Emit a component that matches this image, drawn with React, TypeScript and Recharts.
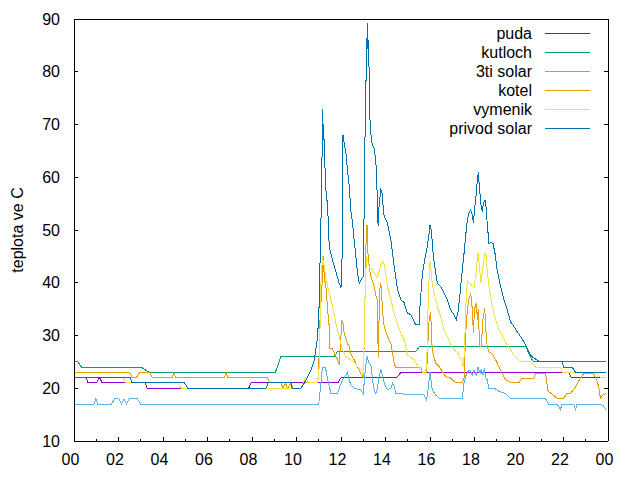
import { Legend, Line, LineChart, XAxis, YAxis } from 'recharts';

// [hodina, teplota]
const puda: [number, number][] = [
  [0, 22], [0.55, 22], [0.62, 21], [1.0, 21], [1.15, 22], [1.27, 21], [3.2, 21], [3.28, 20],
  [7.85, 20], [7.95, 21], [11.85, 21], [12.0, 22], [14.5, 22], [14.7, 23], [22.24, 23],
  [22.36, 22], [23.9, 22],
];

const kutloch: [number, number][] = [
  [0, 25], [0.18, 25], [0.33, 24], [3.02, 24], [3.37, 23], [9.05, 23], [9.3, 26], [11.7, 26],
  [11.85, 27], [15.36, 27], [15.54, 28], [20.3, 28], [20.5, 26], [20.65, 25], [23.9, 25],
];

const tretiSolar: [number, number][] = [
  [0, 17], [0.9, 17], [0.98, 18], [1.07, 17], [1.68, 17], [1.83, 18], [2.02, 18], [2.14, 17],
  [2.25, 18], [2.36, 17], [2.47, 18], [2.85, 18], [3.0, 17], [11.0, 17], [11.17, 24], [11.3, 24],
  [11.4, 21.6], [11.55, 19], [11.85, 19], [11.92, 20], [12.07, 21.6], [12.22, 22.5], [12.29, 23],
  [12.37, 21.6], [12.44, 20.6], [12.59, 20], [12.89, 19.7], [13.0, 19], [13.09, 23.5], [13.17, 26],
  [13.27, 24.7], [13.34, 24.5], [13.42, 21.6], [13.49, 19.7], [13.57, 19], [13.64, 20],
  [13.71, 22.2], [13.79, 23.5], [13.86, 22.5], [13.94, 21], [14.09, 19.7], [14.24, 20],
  [14.32, 21], [14.39, 20.3], [14.46, 19], [14.83, 18.9], [15.7, 18.9], [15.85, 17.8],
  [15.91, 19.7], [16.0, 23.1], [16.06, 21], [16.1, 19.7], [16.26, 18.7], [16.41, 18.1],
  [17.45, 18.1], [17.53, 21], [17.6, 22.2], [17.68, 23.1], [17.8, 23.5], [17.9, 22.5],
  [17.98, 23.5], [18.08, 22.5], [18.16, 24], [18.25, 22.8], [18.3, 23.5], [18.38, 22.5],
  [18.45, 23.8], [18.5, 22], [18.57, 21.6], [18.65, 20], [18.9, 20], [19.1, 19.4], [19.4, 19],
  [19.47, 18.7], [19.62, 18], [21.19, 18], [21.34, 17], [21.71, 17], [21.79, 16.5], [21.86, 16],
  [21.94, 17], [22.46, 17], [22.54, 16], [22.61, 17], [23.58, 17], [23.76, 16.8], [23.9, 16],
];

const kotel: [number, number][] = [
  [0, 23], [2.5, 23], [2.62, 22], [2.8, 22], [2.95, 23], [3.4, 23], [3.52, 22], [4.42, 22],
  [4.49, 23], [4.56, 22], [6.77, 22], [6.84, 23], [6.91, 22], [8.7, 22], [8.8, 21], [9.3, 21],
  [9.4, 20], [9.5, 21], [9.6, 20], [9.75, 21], [9.85, 20], [10.2, 20], [10.3, 21], [10.95, 21],
  [11.0, 24], [11.07, 35], [11.12, 37], [11.17, 42], [11.2, 45], [11.25, 41], [11.32, 39.3],
  [11.4, 34.9], [11.47, 31.7], [11.5, 27.6], [11.62, 27.5], [11.77, 26], [11.85, 25.4],
  [11.92, 24.4], [12.0, 30], [12.02, 33], [12.1, 32.3], [12.14, 30.4], [12.29, 28.5],
  [12.37, 27.9], [12.44, 26.6], [12.59, 25.4], [12.74, 24.1], [12.89, 22.8], [13.0, 22.2],
  [13.05, 30], [13.12, 47], [13.17, 51], [13.2, 46], [13.27, 43], [13.34, 41.2], [13.49, 39.3],
  [13.6, 37], [13.64, 36.8], [13.67, 26], [13.71, 33], [13.76, 39.9], [13.82, 39], [13.86, 34.9],
  [13.94, 31.7], [14.09, 29.8], [14.24, 28.5], [14.39, 24.7], [14.46, 24], [15.58, 24],
  [15.65, 23], [15.85, 23], [15.9, 28], [15.96, 33], [16.03, 34.5], [16.07, 30], [16.1, 27.3],
  [16.26, 24.7], [16.41, 24.1], [16.71, 22.2], [16.9, 22], [17.16, 21], [17.45, 21], [17.53, 22],
  [17.6, 30], [17.68, 35], [17.75, 36.8], [17.83, 38], [17.9, 35], [17.95, 30.4], [18.0, 35],
  [18.08, 36.1], [18.13, 33], [18.17, 35], [18.23, 27.9], [18.3, 27.9], [18.38, 33],
  [18.46, 35.2], [18.51, 31], [18.57, 27.9], [18.65, 26.9], [18.8, 26.5], [18.95, 25.4],
  [19.1, 24.1], [19.25, 22.8], [19.4, 21.6], [19.62, 21.1], [20.0, 21.1], [20.14, 21.9],
  [20.67, 21.9], [20.74, 22.8], [21.19, 22.8], [21.22, 22], [21.31, 19.4], [21.49, 18.9],
  [21.71, 18.1], [22.01, 18.1], [22.16, 19], [22.31, 19], [22.54, 20.3], [22.76, 21.9],
  [22.91, 22.8], [23.36, 22.8], [23.51, 21.3], [23.58, 20.3], [23.66, 18.1], [23.76, 18.7],
  [23.9, 19],
];

const vymenik: [number, number][] = [
  [0, 22], [2.2, 22], [2.35, 21], [4.74, 21], [4.82, 20], [10.2, 20], [10.3, 21], [10.4, 22],
  [10.55, 21], [10.95, 21], [11.02, 24], [11.1, 40], [11.17, 45], [11.2, 44], [11.25, 43.1],
  [11.32, 40.9], [11.47, 38], [11.62, 35.5], [11.77, 32.3], [11.92, 29.8], [12.07, 27.3],
  [12.22, 26], [12.44, 25.4], [12.59, 25], [12.74, 24.1], [12.89, 23.5], [13.0, 22.5],
  [13.05, 30], [13.09, 40], [13.15, 45], [13.2, 44], [13.27, 43], [13.34, 42.8], [13.49, 42],
  [13.6, 41], [13.71, 42], [13.8, 43.5], [13.86, 44], [13.94, 43.5], [14.0, 42], [14.09, 39.3],
  [14.24, 36.8], [14.39, 34.2], [14.54, 32.3], [14.69, 30.4], [14.84, 29.2], [14.91, 27.9],
  [14.98, 26.3], [15.29, 25.4], [15.43, 24.4], [15.58, 23.5], [15.73, 22.8], [15.85, 24],
  [15.91, 34.9], [15.97, 42.4], [16.0, 44], [16.06, 42], [16.1, 39.9], [16.18, 38], [16.33, 35.5],
  [16.48, 33.6], [16.63, 31.1], [16.78, 29.8], [16.93, 28.2], [17.08, 27.3], [17.23, 26.8],
  [17.38, 25.7], [17.5, 24.1], [17.56, 28], [17.6, 34.9], [17.68, 40.5], [17.75, 40.2],
  [17.9, 39.3], [17.98, 39], [18.08, 42], [18.13, 45], [18.17, 45.9], [18.23, 42.4], [18.3, 40],
  [18.38, 43], [18.46, 45.6], [18.51, 45.6], [18.57, 42.4], [18.65, 39.3], [18.8, 35.5],
  [18.95, 33], [19.1, 31.1], [19.25, 30.1], [19.4, 28.6], [19.62, 27.3], [19.77, 26.3],
  [20.0, 25.4], [20.14, 25], [20.52, 25], [20.67, 24.4], [20.74, 24], [21.86, 24], [21.94, 23],
  [23.43, 23], [23.66, 22], [23.9, 22],
];

const privodSolar: [number, number][] = [
  [0, 22], [2.53, 22], [2.6, 21], [4.97, 21], [5.12, 20], [8.63, 20], [8.72, 21], [9.75, 21],
  [9.8, 20], [10.2, 20], [10.35, 21], [10.5, 22.2], [10.65, 23.5], [10.8, 25.4], [10.95, 29.8],
  [11.02, 36], [11.07, 46.5], [11.13, 57.6], [11.17, 73], [11.2, 67], [11.22, 70], [11.25, 65],
  [11.32, 57.6], [11.4, 54.5], [11.47, 46.9], [11.62, 44.3], [11.77, 42.1], [11.92, 39.9],
  [12.0, 39], [12.05, 45], [12.09, 68], [12.14, 66.5], [12.22, 64.6], [12.29, 61.4],
  [12.37, 58.3], [12.44, 53.8], [12.52, 51.3], [12.59, 48.1], [12.67, 45], [12.74, 41.8],
  [12.82, 39.9], [12.89, 40.5], [13.0, 41.2], [13.04, 53.8], [13.09, 71.5], [13.15, 83.6],
  [13.19, 89.3], [13.22, 83], [13.24, 86], [13.27, 78], [13.3, 71], [13.37, 66.8], [13.43, 66],
  [13.49, 65.5], [13.57, 62.7], [13.61, 58.9], [13.66, 51.5], [13.68, 50.7], [13.71, 54.5],
  [13.79, 57.6], [13.85, 57], [13.88, 55.1], [13.94, 52.6], [14.09, 51.3], [14.24, 48.1],
  [14.39, 43.1], [14.54, 38.7], [14.69, 36.8], [14.84, 36.2], [14.98, 34.2], [15.14, 34],
  [15.21, 33.3], [15.36, 32], [15.51, 32], [15.55, 35.5], [15.66, 41.8], [15.76, 44.3],
  [15.88, 46.9], [15.96, 49.4], [16.0, 51], [16.06, 50], [16.15, 45], [16.26, 41.8],
  [16.33, 39.9], [16.48, 39.3], [16.63, 38], [16.78, 36.8], [16.93, 34.9], [17.08, 33.9],
  [17.18, 33], [17.26, 34.5], [17.35, 38], [17.45, 42.4], [17.53, 45.6], [17.6, 48.8],
  [17.68, 51.9], [17.75, 53.2], [17.83, 53.8], [17.9, 52.9], [17.95, 51.3], [18.0, 53.8],
  [18.08, 57], [18.13, 59.5], [18.17, 60.9], [18.23, 57.6], [18.3, 54.5], [18.35, 53.5],
  [18.4, 55.1], [18.47, 55.7], [18.53, 54], [18.57, 51.3], [18.65, 47.5], [18.73, 47.6],
  [18.83, 47.5], [18.92, 45.6], [19.02, 42.4], [19.17, 39.3], [19.32, 36.8], [19.47, 34.9],
  [19.62, 32.6], [19.77, 31.7], [19.92, 30.7], [20.07, 29.8], [20.22, 28.8], [20.37, 27.5],
  [20.52, 26.3], [20.67, 25.7], [20.97, 25], [21.94, 25], [22.0, 24], [22.39, 24], [22.54, 23],
  [23.9, 23],
];

// every hour gets a tick, even hours get a label
const hourTicks = [0, 1, 2, 3, 4, 5, 6, 7, 8, 9, 10, 11, 12, 13, 14, 15, 16, 17, 18, 19, 20, 21, 22, 23, 24];
const tempTicks = [10, 20, 30, 40, 50, 60, 70, 80, 90];

const FONT = '"Liberation Sans", Arial, sans-serif';

const toPoints = (rows: [number, number][]) => rows.map(([t, v]) => ({ t, v }));

const series = [
  { name: 'puda', color: '#9400d3', rows: puda },
  { name: 'kutloch', color: '#009e73', rows: kutloch },
  { name: '3ti solar', color: '#56b4e9', rows: tretiSolar },
  { name: 'kotel', color: '#e69f00', rows: kotel },
  { name: 'vymenik', color: '#f0e442', rows: vymenik },
  { name: 'privod solar', color: '#0072b2', rows: privodSolar },
];

const BottomTick = (props: any) => {
  const { x, y, payload } = props;
  const major = payload.value % 2 === 0;
  return (
    <g>
      <line x1={x} x2={x} y1={y} y2={y - (major ? 4 : 2)} stroke="#000" shapeRendering="crispEdges" />
      {major && (
        <text x={x - 3.5} y={y + 24} textAnchor="middle" fontSize={16} fontFamily={FONT} fill="#000">
          {String(payload.value % 24).padStart(2, '0')}
        </text>
      )}
    </g>
  );
};

const TopTick = (props: any) => {
  const { x, y, payload } = props;
  const major = payload.value % 2 === 0;
  return <line x1={x} x2={x} y1={y} y2={y + (major ? 4 : 2)} stroke="#000" shapeRendering="crispEdges" />;
};

const LeftTick = (props: any) => {
  const { x, y, payload } = props;
  return (
    <g>
      <line x1={x} x2={x + 4} y1={y} y2={y} stroke="#000" shapeRendering="crispEdges" />
      <text x={x - 14} y={y} dy={5.5} textAnchor="end" fontSize={16} fontFamily={FONT} fill="#000">
        {payload.value}
      </text>
    </g>
  );
};

const RightTick = (props: any) => {
  const { x, y } = props;
  return <line x1={x} x2={x - 4} y1={y} y2={y} stroke="#000" shapeRendering="crispEdges" />;
};

const YTitle = (props: any) => {
  const { viewBox } = props;
  const cx = viewBox.x + 9;
  const cy = viewBox.y + viewBox.height / 2;
  return (
    <text
      x={cx}
      y={cy}
      transform={`rotate(-90 ${cx} ${cy})`}
      textAnchor="middle"
      dominantBaseline="central"
      fontSize={16}
      fontFamily={FONT}
      fill="#000"
    >
      teplota ve C
    </text>
  );
};

const LegendBox = () => (
  <svg width={200} height={125}>
    {series.map((s, i) => {
      const cy = 15.3 + i * 19;
      return (
        <g key={`leg-${s.name}`}>
          <text x={112} y={cy} dy={5.5} textAnchor="end" fontSize={16} fontFamily={FONT} fill="#000">
            {s.name}
          </text>
          <line x1={125} x2={170} y1={cy} y2={cy} stroke={s.color} strokeWidth={1} shapeRendering="crispEdges" />
        </g>
      );
    })}
  </svg>
);

const axisStroke = { stroke: '#000', shapeRendering: 'crispEdges' };

const App = () => {
  return (
    <div style={{ width: 632, height: 464, fontFamily: FONT }}>
      <LineChart width={632} height={464} margin={{ top: 0, right: 0, bottom: 0, left: 0 }}>
        <XAxis xAxisId="x" dataKey="t" type="number" domain={[0, 24]} ticks={hourTicks} allowDataOverflow
          height={31} tickSize={0} tickMargin={0} tickLine={false} tick={<BottomTick />}
          axisLine={axisStroke} interval={0} />
        <XAxis xAxisId="top" orientation="top" type="number" domain={[0, 24]} ticks={hourTicks} allowDataOverflow
          height={11} tickSize={0} tickMargin={0} tickLine={false} tick={<TopTick />}
          axisLine={axisStroke} interval={0} />
        <YAxis yAxisId="y" type="number" domain={[10, 90]} ticks={tempTicks} allowDataOverflow
          width={66} tickSize={0} tickMargin={0} tickLine={false} tick={<LeftTick />}
          axisLine={axisStroke} interval={0} label={<YTitle />} />
        <YAxis yAxisId="r" orientation="right" type="number" domain={[10, 90]} ticks={tempTicks} allowDataOverflow
          width={32} tickSize={0} tickMargin={0} tickLine={false} tick={<RightTick />}
          axisLine={axisStroke} interval={0} />
        <Legend
          layout="vertical"
          align="center"
          verticalAlign="middle"
          content={<LegendBox />}
          wrapperStyle={{ top: 10, left: 412, width: 200, height: 125 }}
        />
        {series.map((s) => (
          <Line
            key={s.name}
            xAxisId="x"
            yAxisId="y"
            data={toPoints(s.rows)}
            dataKey="v"
            name={s.name}
            type="linear"
            stroke={s.color}
            strokeWidth={1}
            shapeRendering="crispEdges"
            dot={false}
            activeDot={false}
            isAnimationActive={false}
          />
        ))}
      </LineChart>
    </div>
  );
};

export default App;
